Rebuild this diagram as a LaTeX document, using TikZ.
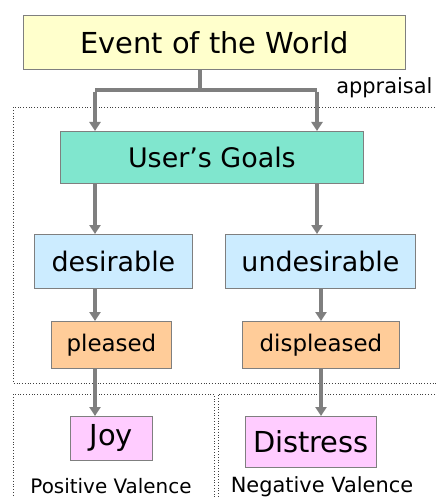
\documentclass[tikz,border=0pt]{standalone}
\usepackage{fontspec}
\setmainfont{DejaVu Sans}
\usetikzlibrary{arrows.meta}
\definecolor{evfill}{HTML}{FFFFCC}
\definecolor{goalfill}{HTML}{80E6CE}
\definecolor{desfill}{HTML}{CCECFF}
\definecolor{plfill}{HTML}{FFCC99}
\definecolor{emofill}{HTML}{FFCCFF}
\definecolor{edge}{HTML}{7F7F7F}
\tikzset{
  box/.style={draw=edge, line width=0.8bp, inner sep=0pt, anchor=north west},
  flow/.style={draw=edge, line width=3.5bp, -{Triangle[width=11bp,length=9bp]}},
  trunk/.style={draw=edge, line width=3.5bp},
  region/.style={draw=black!75, line width=0.8bp, dotted},
}
\begin{document}
\begin{tikzpicture}[x=1bp, y=-1bp]
\useasboundingbox (0,0) rectangle (436,497);
\clip (0,0) rectangle (436,497);

% dotted regions
\draw[region] (440,107) -- (13,107) -- (13,383) -- (440,383);
\draw[region] (214,500) -- (214,394) -- (13,394) -- (13,500);
\draw[region] (440,394) -- (218,394) -- (218,500);
\node[anchor=east, font=\fontsize{21}{24}\selectfont] (appr) at (436,88) {appraisal};

% boxes
\node[box, fill=evfill, minimum width=382bp, minimum height=54bp, font=\fontsize{29}{33}\selectfont] (ev) at (23,15) {Event of the World};
\node[box, fill=goalfill, minimum width=303bp, minimum height=52bp, font=\fontsize{27}{31}\selectfont] (goals) at (60,131) {User’s Goals};
\node[box, fill=desfill, minimum width=158bp, minimum height=54bp, font=\fontsize{27}{31}\selectfont] (des) at (34,234) {desirable};
\node[box, fill=desfill, minimum width=190bp, minimum height=54bp, font=\fontsize{27}{31}\selectfont] (undes) at (225,234) {undesirable};
\node[box, fill=plfill, minimum width=120bp, minimum height=47bp, font=\fontsize{23}{27}\selectfont] (pl) at (51,321) {pleased};
\node[box, fill=plfill, minimum width=157bp, minimum height=47bp, font=\fontsize{23}{27}\selectfont] (displ) at (242,321) {displeased};
\node[box, fill=emofill, minimum width=82bp, minimum height=44bp, font=\fontsize{29}{33}\selectfont] (joy) at (70,416) {Joy};
\node[box, fill=emofill, minimum width=131bp, minimum height=51bp, font=\fontsize{29}{33}\selectfont] (dis) at (245,416) {Distress};
\node[font=\fontsize{20}{24}\selectfont] (pos) at (111,486) {Positive Valence};
\node[font=\fontsize{21}{24}\selectfont] (neg) at (322,487) {Negative Valence};

% columns of the two branches
\coordinate (lx) at (95,0);
\coordinate (rx) at (317,0);
\coordinate (rx2) at (321,0);
\coordinate (cx) at (200,0);
\coordinate (split) at (200,90);

% connectors
\draw[trunk] (ev.south -| cx) -- (split);
\draw[trunk] (split -| lx) -- (split -| rx);
\draw[flow] ([yshift=-1.75bp]split -| lx) -- (goals.north -| lx);
\draw[flow] ([yshift=-1.75bp]split -| rx) -- (goals.north -| rx);
\draw[flow] (goals.south -| lx) -- (des.north -| lx);
\draw[flow] (goals.south -| rx) -- (undes.north -| rx);
\draw[flow] (des.south -| lx) -- (pl.north -| lx);
\draw[flow] (undes.south -| rx2) -- (displ.north -| rx2);
\draw[flow] (pl.south -| lx) -- (joy.north -| lx);
\draw[flow] (displ.south -| rx2) -- (dis.north -| rx2);
\end{tikzpicture}
\end{document}
